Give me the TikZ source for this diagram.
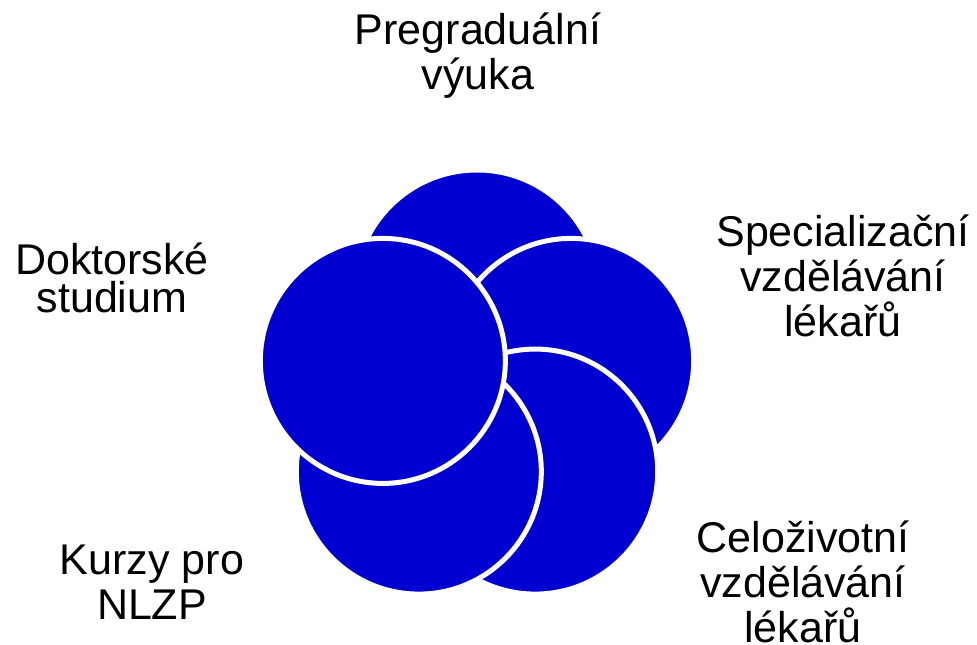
\documentclass[tikz,border=0pt]{standalone}
\usepackage{fontspec}
\setmainfont{Liberation Sans}
\usetikzlibrary{calc}
\definecolor{petalblue}{RGB}{0,0,208}

\begin{document}
\begin{tikzpicture}[x=1pt, y=1pt,
      petal/.style={circle, fill=petalblue, draw=white, line width=5pt, minimum size=245pt, inner sep=0pt},
      caption/.style={anchor=base, align=center, inner sep=0pt, font=\fontsize{43}{45}\selectfont}]
      \useasboundingbox (0,0) rectangle (977,645);
      \coordinate (mid) at (477,253.5);

      % Circles, each one over the one before
      \node[petal] (pregrad) at ($(mid)+(90:99)$) {};
      \node[petal] (special) at ($(mid)+(18:99)$) {};
      \node[petal] (celozi) at ($(mid)+(-54:99)$) {};
      \node[petal] (kurzy) at ($(mid)+(-126:99)$) {};
      \node[petal] (doktor) at ($(mid)+(162:99)$) {};

      % Labels (anchored at the last line)
      \node[caption] (pregrad_text) at (478,555) {Pregraduální\\výuka};
      \node[caption] (special_text) at (843,308) {Specializační\\vzdělávání\\lékařů};
      \node[caption] (celozi_text) at (803,2) {Celoživotní\\vzdělávání\\lékařů};
      \node[caption] (kurzy_text) at (152,25) {Kurzy pro\\NLZP};
      \node[caption, font=\fontsize{43}{38}\selectfont] (doktor_text) at (112,332) {Doktorské\\studium};

    \end{tikzpicture}
\end{document}
